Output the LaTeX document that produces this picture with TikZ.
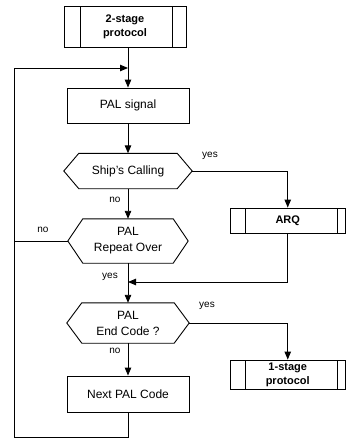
\documentclass[tikz,border=0pt]{standalone}
\usepackage{fontspec}
\setmainfont{Liberation Sans}
\usetikzlibrary{arrows.meta,calc}
\tikzset{
  box/.style={draw, line width=0.9pt, minimum width=#1, inner sep=0pt, align=center,
     font=\fontsize{12}{14}\selectfont},
  hexbox/.style={inner sep=0pt, minimum width=#1, align=center,
     font=\fontsize{12}{16}\selectfont},
  subproc/.style n args={3}{box=#1, font=\fontsize{11}{14}\selectfont\bfseries,
     path picture={
       \draw[line width=0.9pt] ([xshift=#2]path picture bounding box.north west) -- ([xshift=#2]path picture bounding box.south west);
       \draw[line width=0.9pt] ([xshift=-#3]path picture bounding box.north east) -- ([xshift=-#3]path picture bounding box.south east);
     }},
  arr/.style={line width=0.9pt, -{Triangle[length=8pt,width=6.5pt]}},
  ln/.style={line width=0.9pt},
  lbl/.style={font=\fontsize{10}{12}\selectfont, inner sep=0pt}
}
\newcommand\hexdraw[2]{%
  \draw[line width=0.9pt] (#1.west) -- ([xshift=#2]#1.north west) -- ([xshift=-#2]#1.north east)
    -- (#1.east) -- ([xshift=-#2]#1.south east) -- ([xshift=#2]#1.south west) -- cycle;}
\begin{document}
\begin{tikzpicture}[x=1pt,y=-1pt]
\useasboundingbox (0,0) rectangle (346,439);
% nodes
\node[subproc={122pt}{16pt}{14pt}, minimum height=41pt] (s2) at (125,26.5) {2-stage\\protocol};
\node[box=122pt, minimum height=35pt] (pal) at (128,105.5) {PAL signal};
\node[hexbox=128pt, minimum height=35pt] (ship) at (128,171) {Ship's Calling};
\hexdraw{ship}{15pt}
\node[hexbox=120pt, minimum height=44pt] (rep) at (128,241) {PAL\\Repeat Over};
\hexdraw{rep}{15pt}
\node[hexbox=122pt, minimum height=40pt] (endc) at (128,323) {PAL\\End Code ?};
\hexdraw{endc}{15pt}
\node[box=122pt, minimum height=36pt] (next) at (128,394) {Next PAL Code};
\node[subproc={115.5pt}{15pt}{8pt}, minimum height=25pt] (arq) at (287.75,220.5) {ARQ};
\node[subproc={115.5pt}{15pt}{8pt}, minimum height=29pt] (one) at (287.75,374.5) {1-stage\\protocol};
% junctions
\coordinate (j0) at (128,68);
\coordinate (j1) at (128,282);
\coordinate (lb) at (14,437);
% connectors
\draw[arr] (pal.north |- s2.south) -- (pal.north);
\draw[arr] (pal.south) -- (ship.north);
\draw[arr] (ship.south) -- (rep.north);
\draw[arr] (ship.east) -| (arq.north);
\draw[arr] (rep.south) -- (endc.north);
\draw[arr] (arq.south) |- (j1);
\draw[arr] (endc.east) -| (one.north);
\draw[arr] (endc.south) -- (next.north);
\draw[arr] (next.south) |- (lb) |- (j0);
\draw[ln] (rep.west) -- (rep.west -| lb);
% labels
\node[lbl] (l1) at (210,156) {yes};
\node[lbl] (l2) at (115,200) {no};
\node[lbl] (l3) at (43,230) {no};
\node[lbl] (l4) at (110,277) {yes};
\node[lbl] (l5) at (207,306) {yes};
\node[lbl] (l6) at (115,351) {no};
\end{tikzpicture}
\end{document}
